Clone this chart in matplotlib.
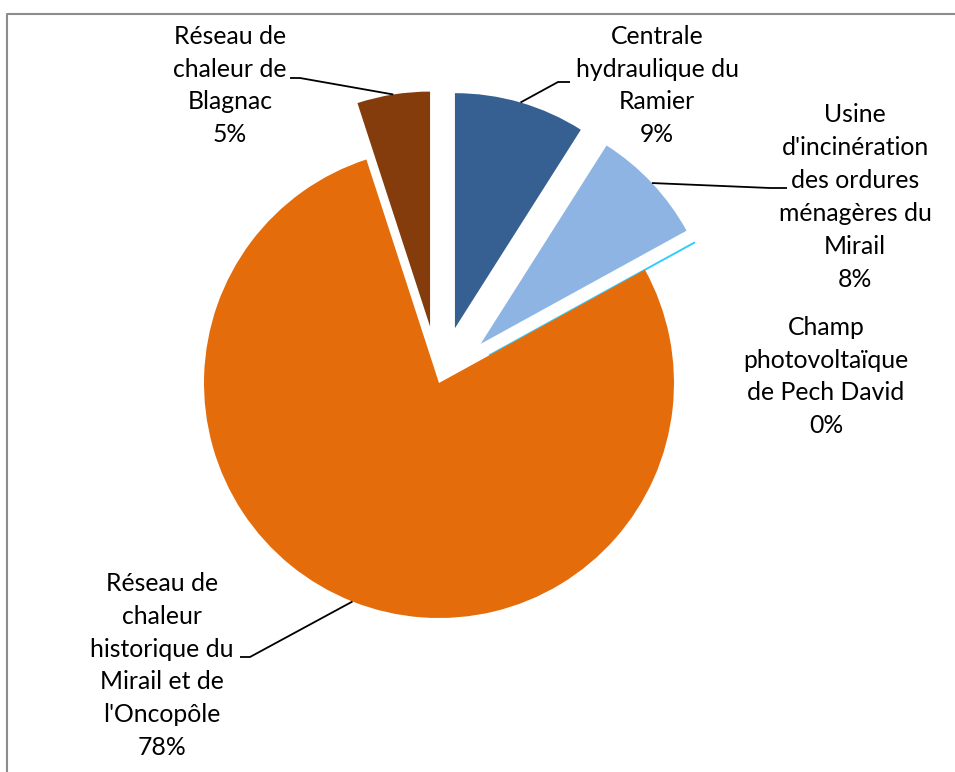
import numpy as np
import matplotlib.pyplot as plt

plt.rcParams['font.family'] = ['Lato', 'DejaVu Sans']

# share of each heat source (%), clockwise from 12 o'clock
sources = [
    "Centrale\nhydraulique du\nRamier",
    "Usine\nd'incinération\ndes ordures\nménagères du\nMirail",
    "Champ\nphotovoltaïque\nde Pech David",
    "Réseau de\nchaleur\nhistorique du\nMirail et de\nl'Oncopôle",
    "Réseau de\nchaleur de\nBlagnac",
]
shares = [9, 8, 0, 78, 5]
colors = ["#376092", "#8EB4E3", "#33CCFF", "#E46C0A", "#843C0C"]
explode = [0.243, 0.243, 0.243, 0, 0.243]   # fraction of the radius

W, H = 955, 772
R = 235
fig = plt.figure(figsize=(W / 100, H / 100), dpi=100)
ax = fig.add_axes([0, 0, 1, 1])

wedges, _ = ax.pie(shares, colors=colors, explode=[e * R for e in explode],
                   startangle=90, counterclock=False, radius=R,
                   center=(439, H - 383), wedgeprops=dict(linewidth=0))
# the 0 % slice only shows up as its outline
wedges[2].set_edgecolor(colors[2])
wedges[2].set_linewidth(1.4)

ax.set_xlim(0, W)
ax.set_ylim(0, H)
ax.set_aspect('equal')
ax.set_axis_off()

# label centres and leader elbows (pixel coords from the top-left)
label_xy = [(657, 85.5), (855, 197), (826, 376.5), (162, 665.5), (230, 85.5)]
leaders = [
    [(558, 82), (570, 82)],
    [(770, 188), (787, 188)],
    None,
    [(250, 657), (240, 657)],
    [(300, 78), (290, 78)],
]

total = sum(shares)
for w, name, v, (lx, ly), lead in zip(wedges, sources, shares, label_xy, leaders):
    ax.text(lx, H - ly, f"{name}\n{v / total * 100:.0f}%", ha='center', va='center',
            multialignment='center', fontsize=17.8, linespacing=1.52, color='black')
    if lead is None:
        continue
    mid = np.deg2rad((w.theta1 + w.theta2) / 2)
    cx, cy = w.center
    px, py = cx + w.r * np.cos(mid), cy + w.r * np.sin(mid)
    xs = [px] + [p[0] for p in lead]
    ys = [py] + [H - p[1] for p in lead]
    ax.plot(xs, ys, color='black', lw=1.3, solid_capstyle='butt')

# chart area border (top and left edges)
ax.plot([7, 7, W + 5], [-5, H - 14, H - 14], color='#8C8C8C', lw=1.5, clip_on=False)

fig.savefig("out.png", dpi=100)
